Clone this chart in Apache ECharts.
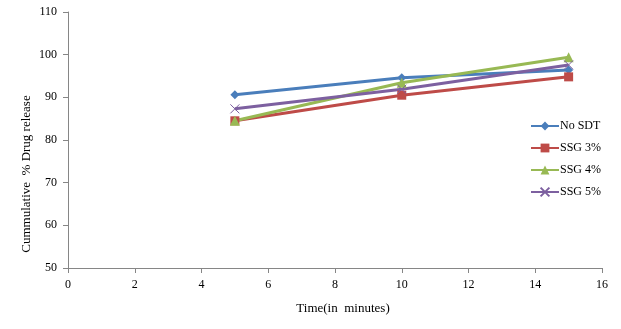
<!DOCTYPE html>
<html><head><meta charset="utf-8">
<script src="https://cdn.jsdelivr.net/npm/echarts@6/dist/echarts.min.js"></script>
<style>html,body{margin:0;padding:0;background:#fff}#c{width:621px;height:329px}</style>
</head><body><div id="c"></div>
<script>
const times = [5, 10, 15];
const seriesNames = ['No SDT', 'SSG 3%', 'SSG 4%', 'SSG 5%'];
const noSDT = [90.6, 94.6, 96.4];
const ssg3 = [84.5, 90.5, 94.8];
const ssg4 = [84.5, 93.4, 99.4];
const ssg5 = [87.3, 91.9, 97.6];
const xTitle = 'Time(in  minutes)';
const yTitle = 'Cummulative  % Drug release';
const colors = ['#4A7EBB', '#BE4B48', '#98B954', '#7D60A0'];
const symbols = ['diamond', 'rect', 'triangle', 'path://M0,0 L10,10 M10,0 L0,10'];
const symbolSizes = [9, 9, 10, 9];
const allData = [noSDT, ssg3, ssg4, ssg5];
const font = '"Liberation Serif", "Times New Roman", serif';

const chart = echarts.init(document.getElementById('c'));
chart.setOption({
  animation: false,
  backgroundColor: '#fff',
  grid: {left: 68, right: 19, top: 12, bottom: 61},
  graphic: [
    {type: 'text', x: 27, y: 174, rotation: Math.PI / 2,
     style: {text: yTitle, font: '13px ' + font, fill: '#000', align: 'center', verticalAlign: 'middle'}},
    {type: 'text', x: 343, y: 309,
     style: {text: xTitle, font: '13px ' + font, fill: '#000', align: 'center', verticalAlign: 'middle'}}
  ],
  xAxis: {
    type: 'value', min: 0, max: 16, interval: 2,
    axisLine: {show: true, onZero: false, lineStyle: {color: '#868686'}},
    axisTick: {show: true, length: 5, lineStyle: {color: '#868686'}},
    axisLabel: {fontFamily: font, fontSize: 12, color: '#000', margin: 11},
    splitLine: {show: false}
  },
  yAxis: {
    type: 'value', min: 50, max: 110, interval: 10,
    axisLine: {show: true, lineStyle: {color: '#868686'}},
    axisTick: {show: true, length: 5, lineStyle: {color: '#868686'}},
    axisLabel: {fontFamily: font, fontSize: 12, color: '#000', margin: 11},
    splitLine: {show: false}
  },
  legend: {
    orient: 'vertical', left: 525, top: 115, itemGap: 10,
    itemWidth: 28, itemHeight: 11,
    textStyle: {fontFamily: font, fontSize: 12, color: '#000', padding: [0,0,0,-4]},
    data: seriesNames
  },
  series: seriesNames.map((n, i) => ({
    name: n, type: 'line',
    data: times.map((t, j) => [t, allData[i][j]]),
    symbol: symbols[i], symbolSize: symbolSizes[i],
    lineStyle: {color: colors[i], width: 3},
    itemStyle: {color: colors[i], borderColor: colors[i], borderWidth: i === 3 ? 1 : 0},
    emphasis: {disabled: true}
  }))
});
</script></body></html>
